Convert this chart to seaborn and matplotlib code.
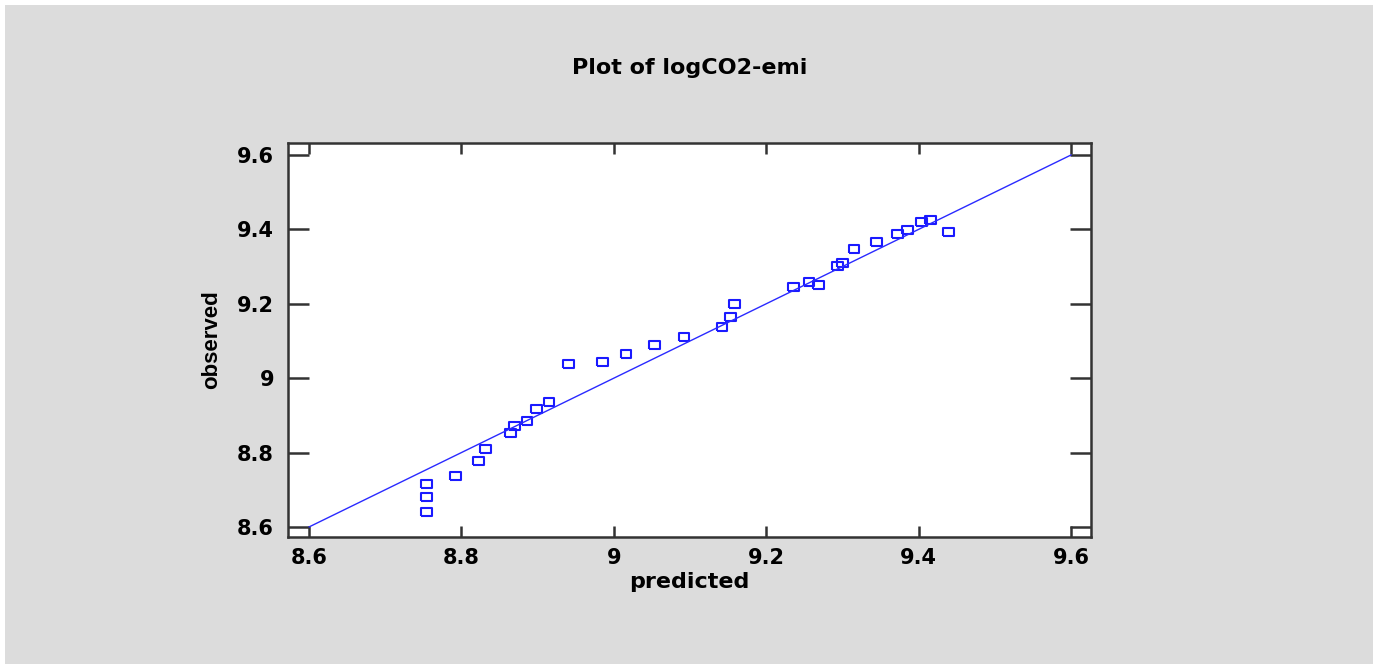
import numpy as np
import pandas as pd
import matplotlib.pyplot as plt
import seaborn as sns
from matplotlib.patches import Rectangle

predicted = [8.754, 8.754, 8.754, 8.792, 8.822, 8.832, 8.864, 8.870, 8.886, 8.898,
             8.915, 8.940, 8.985, 9.016, 9.053, 9.092, 9.142, 9.153, 9.158, 9.236,
             9.256, 9.268, 9.293, 9.300, 9.315, 9.345, 9.372, 9.385, 9.404, 9.415, 9.439]
observed = [8.640, 8.681, 8.716, 8.737, 8.777, 8.810, 8.853, 8.872, 8.885, 8.917,
            8.936, 9.038, 9.044, 9.065, 9.089, 9.111, 9.138, 9.165, 9.199, 9.245,
            9.259, 9.251, 9.302, 9.310, 9.347, 9.366, 9.387, 9.398, 9.420, 9.424, 9.393]
line_x = [8.6, 9.6]
ticks = [8.6, 8.8, 9.0, 9.2, 9.4, 9.6]
tick_labels = ['8.6', '8.8', '9', '9.2', '9.4', '9.6']

df = pd.DataFrame({'predicted': predicted, 'observed': observed})
line = pd.DataFrame({'x': line_x, 'y': line_x})

sns.set_style('white')
plt.rcParams['font.family'] = ['DejaVu Sans']
plt.rcParams['text.color'] = 'black'
plt.rcParams['axes.labelcolor'] = 'black'
plt.rcParams['xtick.color'] = 'black'
plt.rcParams['ytick.color'] = 'black'

fig = plt.figure(figsize=(13.79, 6.66), dpi=100, facecolor='white')
fig.add_artist(Rectangle((5 / 1379, 2 / 666), 1368 / 1379, 659 / 666,
                         transform=fig.transFigure, facecolor='#dcdcdc',
                         edgecolor='none', zorder=-10))
ax = fig.add_axes([288 / 1379, 1 - 537 / 666, 803 / 1379, 394 / 666])
ax.set_zorder(1)
ax.set_facecolor('white')

rect = [(-1, -0.75), (1, -0.75), (1, 0.75), (-1, 0.75), (-1, -0.75)]
sns.lineplot(data=line, x='x', y='y', color='#2a2aff', linewidth=1, ax=ax)
sns.scatterplot(data=df, x='predicted', y='observed', marker=rect, s=60,
                facecolor='none', edgecolor='#1a1aff', linewidth=1.5, ax=ax)

ax.set_xlim(8.5724, 9.626)
ax.set_ylim(8.573, 9.632)
ax.set_xticks(ticks)
ax.set_xticklabels(tick_labels)
ax.set_yticks(ticks)
ax.set_yticklabels(tick_labels)
ax.tick_params(axis='x', direction='in', length=8, width=1.8, color='#333333',
               top=True, bottom=True, labelsize=15, pad=8)
ax.tick_params(axis='y', direction='in', length=15, width=1.8, color='#333333',
               left=True, right=True, labelsize=15, pad=10)
for lab in ax.get_xticklabels() + ax.get_yticklabels():
    lab.set_fontweight('bold')
for s in ax.spines.values():
    s.set_visible(True)
    s.set_linewidth(1.8)
    s.set_color('#333333')

ax.set_xlabel('predicted', fontsize=16, fontweight='bold', labelpad=3)
ax.set_ylabel('observed', fontsize=16, fontweight='bold', labelpad=11,
              family='Liberation Sans')
fig.text(0.5, 1 - 68 / 666, 'Plot of logCO2-emi', ha='center', va='center',
         fontsize=16, fontweight='bold')

fig.savefig('out.png', dpi=100, facecolor=fig.get_facecolor())
